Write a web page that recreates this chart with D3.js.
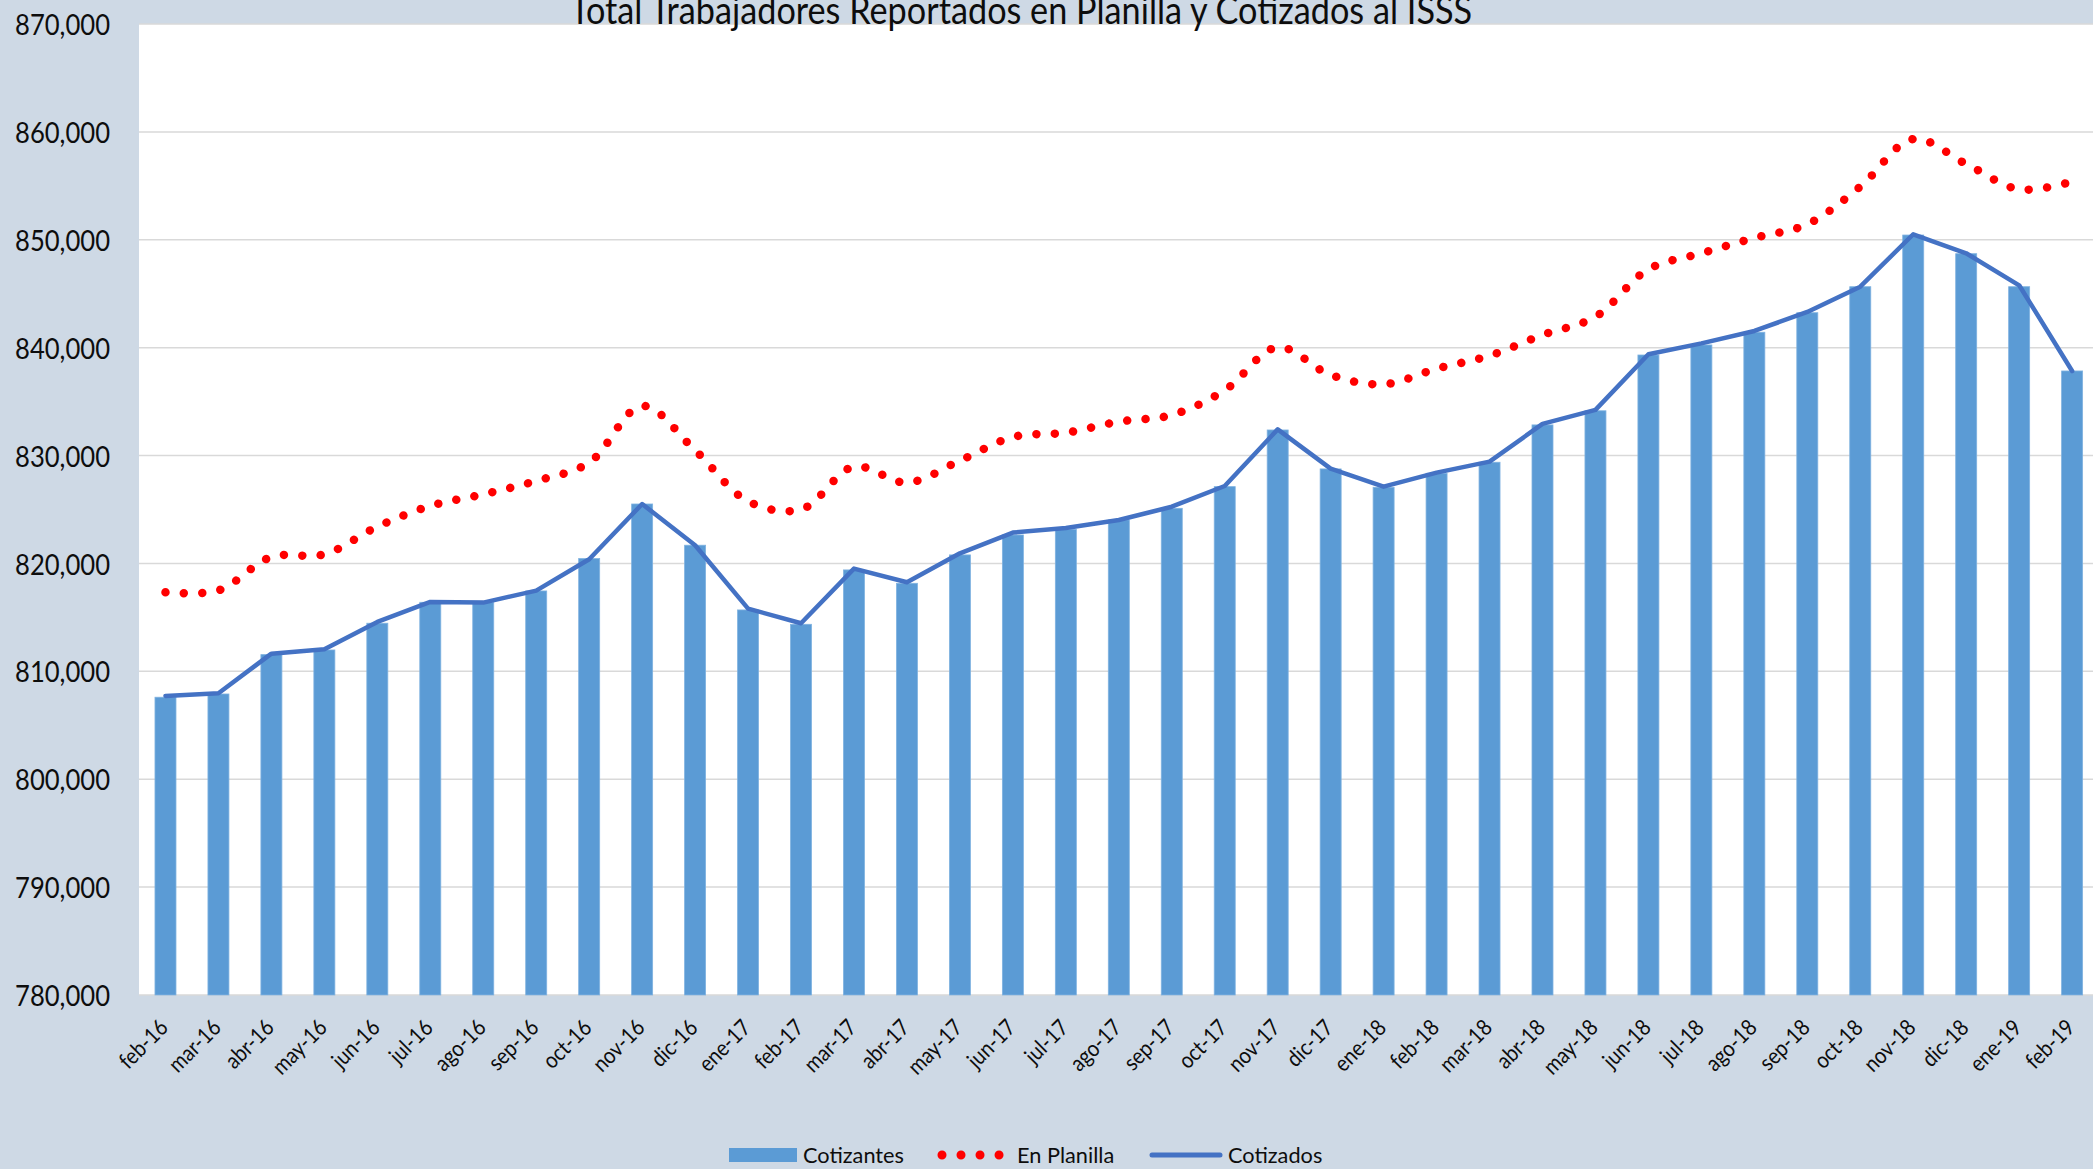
<!DOCTYPE html>
<html>
<head>
<meta charset="utf-8">
<script src="https://cdn.jsdelivr.net/npm/d3@7"></script>
<style>
  html, body { margin: 0; padding: 0; background: #CED9E5; }
  svg { display: block; }
</style>
</head>
<body>
<svg id="chart" width="2093" height="1169"></svg>
<script>
const categories = ["feb-16","mar-16","abr-16","may-16","jun-16","jul-16","ago-16","sep-16","oct-16","nov-16","dic-16","ene-17","feb-17","mar-17","abr-17","may-17","jun-17","jul-17","ago-17","sep-17","oct-17","nov-17","dic-17","ene-18","feb-18","mar-18","abr-18","may-18","jun-18","jul-18","ago-18","sep-18","oct-18","nov-18","dic-18","ene-19","feb-19"];

const cotizantes = [807600,807900,811550,811980,814460,816400,816370,817450,820450,825510,821690,815690,814360,819400,818160,820790,822640,823170,824030,825110,827120,832370,828760,827060,828360,829380,832840,834150,839320,840250,841430,843240,845650,850440,848710,845650,837840];

const enPlanilla = [817330,817500,820600,820850,823410,825330,826410,827650,829340,834600,830490,825760,825000,828970,827490,829530,831720,832120,833140,833760,836050,840040,837470,836610,838050,839260,841180,842870,847270,848750,850170,851440,854920,859340,857030,854680,855390];

const cotizados = [807720,807970,811640,812050,814580,816430,816370,817480,820390,825510,821690,815810,814460,819520,818260,820940,822860,823290,824030,825260,827180,832430,828790,827120,828420,829440,832930,834230,839390,840400,841550,843310,845650,850510,848750,845780,837840];

const yTicks = [780000,790000,800000,810000,820000,830000,840000,850000,860000,870000];

const title = "Total Trabajadores Reportados en Planilla y Cotizados al ISSS";
const legendLabels = ["Cotizantes", "En Planilla", "Cotizados"];

const W = 2093, H = 1169;
const plot = { left: 139, top: 24, right: 2098.6, bottom: 995 };
const FONT = "Lato, 'Open Sans', sans-serif";
const SX = 0.88; // horizontal condense to mimic the narrower original face
const colors = { bar: "#5B9BD5", dots: "#FF0000", line: "#4472C4", grid: "#D9D9D9", bg: "#CED9E5", text: "#0d0d0d" };

const svg = d3.select("#chart");

function fitWidth(sel, target, sx) {
  const n = sel.node();
  const fs = parseFloat(sel.attr("font-size"));
  const w = n.getComputedTextLength() * sx;
  if (w > 0) sel.attr("font-size", fs * target / w);
  return parseFloat(sel.attr("font-size"));
}

svg.append("rect").attr("width", W).attr("height", H).attr("fill", colors.bg);

const x = d3.scaleBand().domain(categories).range([plot.left, plot.right]).padding(0);
const y = d3.scaleLinear().domain([780000, 870000]).range([plot.bottom, plot.top]);
const cx = d => x(d) + x.bandwidth() / 2;

// plot area
svg.append("rect")
  .attr("x", plot.left).attr("y", plot.top)
  .attr("width", W - plot.left).attr("height", plot.bottom - plot.top)
  .attr("fill", "#fff");

// gridlines
svg.append("g").selectAll("line").data(yTicks).join("line")
  .attr("x1", plot.left).attr("x2", W)
  .attr("y1", d => y(d)).attr("y2", d => y(d))
  .attr("stroke", colors.grid).attr("stroke-width", 1.5);

// y axis labels
const fmt = d3.format(",");
const yl = svg.append("g").selectAll("text").data(yTicks).join("text")
  .attr("transform", d => `translate(110,${y(d)}) scale(${SX},1)`)
  .attr("text-anchor", "end").attr("dominant-baseline", "central")
  .attr("font-family", FONT).attr("font-size", 27).attr("fill", colors.text)
  .text(d => fmt(d));
{
  const first = yl.filter((d, i) => i === 0);
  const fs = fitWidth(first, 95, SX);
  yl.attr("font-size", fs);
}

// bars
const barW = 21;
svg.append("g").selectAll("rect").data(categories).join("rect")
  .attr("x", d => cx(d) - barW / 2)
  .attr("y", (d, i) => y(cotizantes[i]))
  .attr("width", barW)
  .attr("height", (d, i) => y(780000) - y(cotizantes[i]))
  .attr("fill", colors.bar)
  .attr("stroke", "#7FB2E0").attr("stroke-width", 0.8);

// dotted smoothed line
const lineSmooth = d3.line().x((d, i) => cx(categories[i])).y(d => y(d)).curve(d3.curveCatmullRom.alpha(0.5));
svg.append("path").datum(enPlanilla)
  .attr("d", lineSmooth)
  .attr("fill", "none").attr("stroke", colors.dots)
  .attr("stroke-width", 8.5).attr("stroke-linecap", "round")
  .attr("stroke-dasharray", "0.01 18.4");

// solid line
const lineStraight = d3.line().x((d, i) => cx(categories[i])).y(d => y(d));
svg.append("path").datum(cotizados)
  .attr("d", lineStraight)
  .attr("fill", "none").attr("stroke", colors.line)
  .attr("stroke-width", 4.5).attr("stroke-linejoin", "round").attr("stroke-linecap", "round");

// x labels
svg.append("g").selectAll("text").data(categories).join("text")
  .attr("transform", d => `translate(${cx(d) + 4},${1029}) rotate(-45) scale(${SX},1)`)
  .attr("text-anchor", "end")
  .attr("font-family", FONT).attr("font-size", 22.5).attr("fill", colors.text)
  .text(d => d);

// title (drawn over plot area)
const t = svg.append("text")
  .attr("transform", `translate(1021,24) scale(${SX},1)`)
  .attr("text-anchor", "middle")
  .attr("font-family", FONT).attr("font-size", 32).attr("fill", colors.text)
  .text(title);
fitWidth(t, 902, SX);

// legend
const lg = svg.append("g");
const ly = 1155;
lg.append("rect").attr("x", 729).attr("y", ly - 7).attr("width", 68).attr("height", 14).attr("fill", colors.bar);
const lt1 = lg.append("text").attr("x", 803).attr("y", ly).attr("dominant-baseline", "central")
  .attr("font-family", FONT).attr("font-size", 21).attr("fill", colors.text).text(legendLabels[0]);
const lfs = fitWidth(lt1, 101, 1);
lg.append("path").attr("d", d3.line()([[942, ly], [1000, ly]]))
  .attr("stroke", colors.dots).attr("stroke-width", 9).attr("stroke-linecap", "round")
  .attr("stroke-dasharray", "0.01 19");
lg.append("text").attr("x", 1017).attr("y", ly).attr("dominant-baseline", "central")
  .attr("font-family", FONT).attr("font-size", lfs).attr("fill", colors.text).text(legendLabels[1]);
lg.append("path").attr("d", d3.line()([[1152, ly], [1220, ly]]))
  .attr("stroke", colors.line).attr("stroke-width", 5).attr("stroke-linecap", "round");
lg.append("text").attr("x", 1228).attr("y", ly).attr("dominant-baseline", "central")
  .attr("font-family", FONT).attr("font-size", lfs).attr("fill", colors.text).text(legendLabels[2]);
</script>
</body>
</html>
